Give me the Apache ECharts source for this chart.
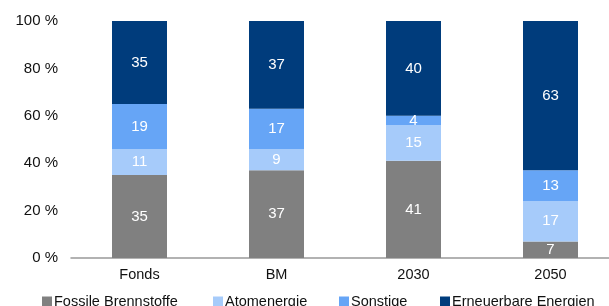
<!DOCTYPE html>
<html><head><meta charset="utf-8">
<script src="https://cdn.jsdelivr.net/npm/echarts@6/dist/echarts.min.js"></script>
<style>html,body{margin:0;padding:0;background:#fff;overflow:hidden}#c{width:619px;height:306px}</style>
</head><body><div id="c"></div>
<script>
const categories = ['Fonds', 'BM', '2030', '2050'];
const fossile = [35, 37, 41, 7];
const atom = [11, 9, 15, 17];
const sonstige = [19, 17, 4, 13];
const erneuerbar = [35, 37, 40, 63];
const yTicks = [0, 20, 40, 60, 80, 100];

const names = ['Fossile Brennstoffe', 'Atomenergie', 'Sonstige', 'Erneuerbare Energien'];
const colors = ['#808080', '#a6cbfa', '#66a5f6', '#003c7c'];
const datas = [fossile, atom, sonstige, erneuerbar];
const legendLeft = [37, 208, 334, 435];
const font = 'Liberation Sans, Arial, sans-serif';

const chart = echarts.init(document.getElementById('c'));
chart.setOption({
  animation: false,
  textStyle: { fontFamily: font },
  grid: { left: 71, right: 0, top: 21, bottom: 48 },
  xAxis: {
    type: 'category', data: categories,
    axisLine: { lineStyle: { color: '#999', width: 1.5 } },
    axisTick: { show: false },
    axisLabel: { color: '#111', fontSize: 14.5, margin: 9, fontFamily: font }
  },
  yAxis: {
    type: 'value', min: 0, max: 100, interval: 20,
    splitLine: { show: false },
    axisLine: { show: false }, axisTick: { show: false },
    axisLabel: { color: '#111', fontSize: 15, margin: 13, fontFamily: font,
      formatter: v => yTicks.includes(v) ? v + ' %' : '' }
  },
  legend: names.map((n, i) => ({
    data: [n], left: legendLeft[i], top: 289, itemWidth: 10, itemHeight: 10,
    icon: 'rect', itemGap: 0,
    textStyle: { fontSize: 14.5, color: '#111', fontFamily: font, padding: [0, 0, 0, -3] }
  })),
  series: names.map((n, i) => ({
    name: n, type: 'bar', stack: 'a', data: datas[i], barWidth: 55,
    itemStyle: { color: colors[i] },
    label: { show: true, position: 'inside', color: '#fff', fontSize: 15, fontFamily: font }
  }))
});
</script></body></html>
